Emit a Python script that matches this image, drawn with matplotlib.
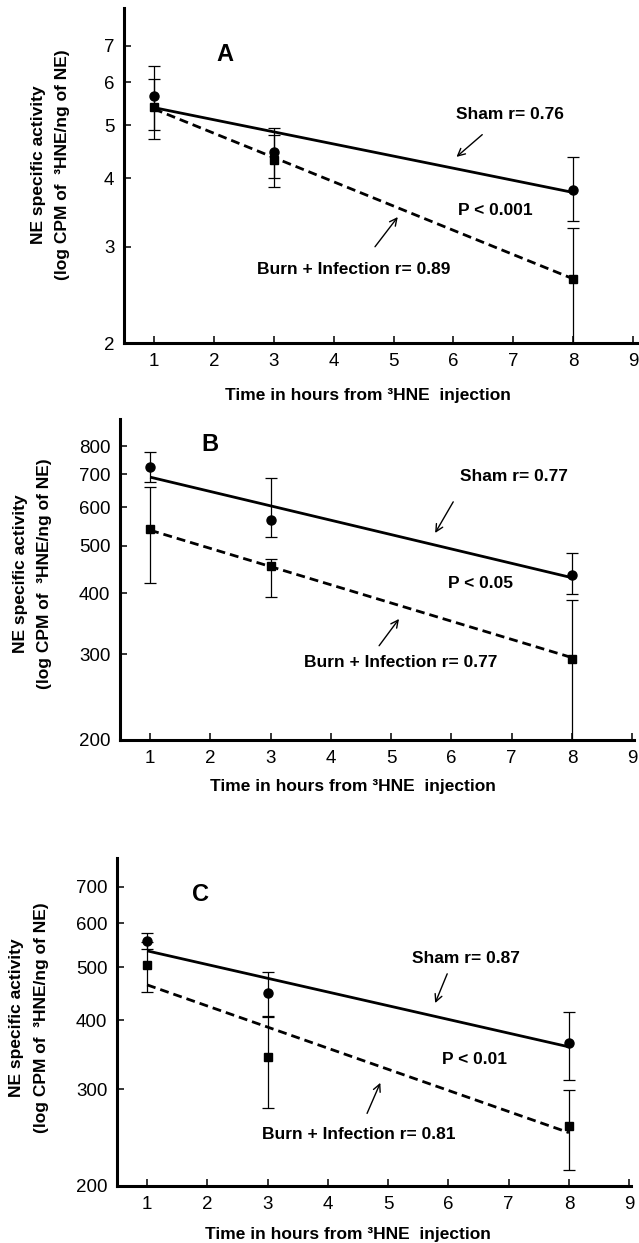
import numpy as np
import matplotlib
matplotlib.use("Agg")
import matplotlib.pyplot as plt

plt.rcParams['font.family'] = ['Liberation Sans', 'DejaVu Sans']

# ---------------- data ----------------
hours = [1, 3, 8]
fit_hours = [1, 8]

# Panel A
a_sham = [5.65, 4.48, 3.81]
a_sham_hi = [6.41, 4.95, 4.38]
a_sham_lo = [4.91, 4.00, 3.35]
a_burn = [5.41, 4.33, 2.62]
a_burn_hi = [6.09, 4.81, 3.24]
a_burn_lo = [4.73, 3.86, 1.95]
a_sham_fit = [5.39, 3.77]
a_burn_fit = [5.36, 2.62]
a_yticks = [2, 3, 4, 5, 6, 7]

# Panel B
b_sham = [725, 565, 436]
b_sham_hi = [778, 688, 483]
b_sham_lo = [675, 521, 398]
b_burn = [540, 455, 293]
b_burn_hi = [659, 470, 387]
b_burn_lo = [419, 393, 195]
b_sham_fit = [691, 430]
b_burn_fit = [538, 295]
b_yticks = [200, 300, 400, 500, 600, 700, 800]

# Panel C
c_sham = [557, 449, 364]
c_sham_hi = [577, 490, 414]
c_sham_lo = [539, 408, 311]
c_burn = [505, 343, 257]
c_burn_hi = [555, 405, 299]
c_burn_lo = [450, 277, 214]
c_sham_fit = [535, 358]
c_burn_fit = [464, 250]
c_yticks = [200, 300, 400, 500, 600, 700]

xticks = [1, 2, 3, 4, 5, 6, 7, 8, 9]

panels = [
    dict(letter="A", sham=a_sham, sham_hi=a_sham_hi, sham_lo=a_sham_lo,
         burn=a_burn, burn_hi=a_burn_hi, burn_lo=a_burn_lo,
         sham_fit=a_sham_fit, burn_fit=a_burn_fit, yticks=a_yticks,
         sham_txt="Sham r= 0.76", burn_txt="Burn + Infection r= 0.89", p_txt="P < 0.001"),
    dict(letter="B", sham=b_sham, sham_hi=b_sham_hi, sham_lo=b_sham_lo,
         burn=b_burn, burn_hi=b_burn_hi, burn_lo=b_burn_lo,
         sham_fit=b_sham_fit, burn_fit=b_burn_fit, yticks=b_yticks,
         sham_txt="Sham r= 0.77", burn_txt="Burn + Infection r= 0.77", p_txt="P < 0.05"),
    dict(letter="C", sham=c_sham, sham_hi=c_sham_hi, sham_lo=c_sham_lo,
         burn=c_burn, burn_hi=c_burn_hi, burn_lo=c_burn_lo,
         sham_fit=c_sham_fit, burn_fit=c_burn_fit, yticks=c_yticks,
         sham_txt="Sham r= 0.87", burn_txt="Burn + Infection r= 0.81", p_txt="P < 0.01"),
]

# layout (figure fractions / data positions)
W, H = 639, 1243
layout = [
    dict(rect=[124/W, 900/H, 514/W, 335/H], ylim=(2, 8.2), xlim=(0.5, 9.08),
         letter_xy=(2.18, 6.74), sham_xy=(6.94, 5.23), sham_arrow=((6.05, 4.38), (6.48, 4.81)),
         p_xy=(6.70, 3.50), burn_arrow=((5.07, 3.40), (4.69, 3.0)), burn_xy=(4.34, 2.72),
         ylab_x=(39, 63), ylab_y=165, xlab=(368, 395)),
    dict(rect=[120/W, 503/H, 514/W, 321/H], ylim=(200, 909), xlim=(0.5, 9.03),
         letter_xy=(2.0, 805), sham_xy=(7.04, 692), sham_arrow=((5.73, 531), (6.03, 615)),
         p_xy=(6.48, 418), burn_arrow=((5.13, 354), (4.80, 312)), burn_xy=(5.15, 288),
         ylab_x=(21, 45), ylab_y=574, xlab=(353, 787)),
    dict(rect=[117/W, 57/H, 514/W, 328/H], ylim=(200, 789), xlim=(0.5, 9.03),
         letter_xy=(1.88, 676), sham_xy=(6.29, 519), sham_arrow=((5.78, 430), (5.98, 486)),
         p_xy=(6.44, 340), burn_arrow=((4.87, 308), (4.65, 271)), burn_xy=(4.52, 248),
         ylab_x=(17, 42), ylab_y=1018, xlab=(348, 1234)),
]

fig = plt.figure(figsize=(W/100, H/100), dpi=100)
fs = 12.5

for p, L in zip(panels, layout):
    ax = fig.add_axes(L["rect"])
    ax.set_yscale("log")
    ax.set_xlim(*L["xlim"])
    ax.set_ylim(*L["ylim"])
    for s in ("top", "right"):
        ax.spines[s].set_visible(False)
    for s in ("left", "bottom"):
        ax.spines[s].set_linewidth(2.2)
    ax.set_xticks(xticks)
    ax.set_xticklabels([str(t) for t in xticks])
    ax.set_yticks(p["yticks"])
    ax.set_yticklabels([str(t) for t in p["yticks"]])
    ax.yaxis.set_minor_locator(matplotlib.ticker.NullLocator())
    ax.tick_params(axis="both", direction="in", length=5, width=1.1, labelsize=13.5)
    ax.tick_params(axis="x", pad=7.5)
    ax.tick_params(axis="y", pad=7)

    sham = np.array(p["sham"], float)
    burn = np.array(p["burn"], float)
    sham_err = [sham - np.array(p["sham_lo"]), np.array(p["sham_hi"]) - sham]
    burn_err = [burn - np.array(p["burn_lo"]), np.array(p["burn_hi"]) - burn]

    ax.errorbar(hours, sham, yerr=sham_err, fmt="o", color="black", ms=6.5,
                ecolor="black", elinewidth=0.9, capsize=4.5, capthick=0.9, zorder=3)
    ax.errorbar(hours, burn, yerr=burn_err, fmt="s", color="black", ms=6,
                ecolor="black", elinewidth=0.9, capsize=4.5, capthick=0.9, zorder=3)
    ax.plot(fit_hours, p["sham_fit"], color="black", lw=2.0, solid_capstyle="butt", zorder=2)
    ax.plot(fit_hours, p["burn_fit"], color="black", lw=2.0, dashes=(3.2, 1.8), zorder=2)

    ax.text(*L["letter_xy"], p["letter"], fontsize=17, fontweight="bold", ha="center", va="center")
    ax.text(*L["sham_xy"], p["sham_txt"], fontsize=fs, fontweight="bold", ha="center", va="center")
    ax.text(*L["p_xy"], p["p_txt"], fontsize=fs, fontweight="bold", ha="center", va="center")
    ax.text(*L["burn_xy"], p["burn_txt"], fontsize=fs, fontweight="bold", ha="center", va="center")
    for head, tail in (L["sham_arrow"], L["burn_arrow"]):
        ax.annotate("", xy=head, xytext=tail,
                    arrowprops=dict(arrowstyle="->", lw=1.0, color="black", mutation_scale=13,
                                    shrinkA=0, shrinkB=0))

    x1, x2 = L["ylab_x"]
    fig.text(x1/W, 1 - L["ylab_y"]/H, "NE specific activity", rotation=90,
             fontsize=fs, fontweight="bold", ha="center", va="center")
    fig.text(x2/W, 1 - L["ylab_y"]/H, "(log CPM of  \u00b3HNE/ng of NE)", rotation=90,
             fontsize=fs, fontweight="bold", ha="center", va="center")
    fig.text(L["xlab"][0]/W, 1 - L["xlab"][1]/H, "Time in hours from \u00b3HNE  injection",
             fontsize=fs, fontweight="bold", ha="center", va="center")

fig.savefig("out.png", dpi=100)
